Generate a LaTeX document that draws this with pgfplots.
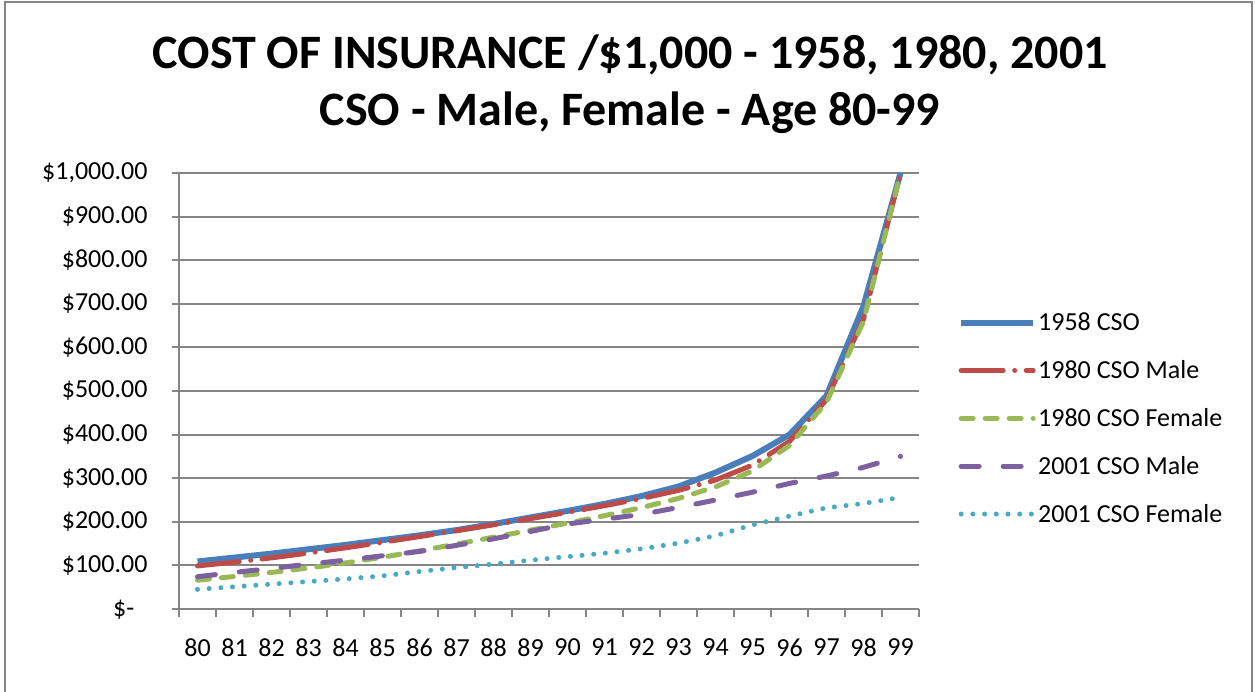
\documentclass[border=0pt]{standalone}
\usepackage{fontspec}
\setmainfont{Carlito}
\usepackage{pgfplots}
\pgfplotsset{compat=1.18}
\definecolor{cBlue}{HTML}{4A7EBB}
\definecolor{cRed}{HTML}{BE4B48}
\definecolor{cGreen}{HTML}{98B954}
\definecolor{cPurple}{HTML}{7D60A0}
\definecolor{cTeal}{HTML}{46AAC5}
\definecolor{gridgray}{HTML}{868686}
\pgfplotstableread{
age s1958 m1980 f1980 m2001 f2001
80 109 98.8 66.0 74 45
81 118 107.5 74.7 84 51
82 127 117.3 83.9 93 57
83 137 128.3 94.1 103 63
84 147 140.3 105.6 112 69
85 158 153.0 118.8 122 76
86 169 166.1 133.4 132 86
87 181 179.6 148.9 146 95
88 195 193.3 164.7 161 103
89 210 207.3 180.7 178 112
90 225 221.8 197.0 195 120
91 241 237.0 214.1 206 128
92 259 253.5 232.6 217 138
93 281 272.1 253.6 233 151
94 313 295.9 280.1 250 168
95 351 330.0 316.9 268 193
96 400 384.6 375.1 288 213
97 489 480.2 474.2 305 232
98 695 665.0 660.0 325 242
99 1000 1000 1000 350 256
}\datatable
\begin{document}
\begin{tikzpicture}[x=1pt,y=1pt]
\useasboundingbox (0,0) rectangle (1255,-691);
\draw[color=gridgray, line width=2pt] (5,-692) -- (5,-2) -- (1252,-2) -- (1252,-692);
\node[anchor=base, font=\fontsize{48}{58}\selectfont\bfseries] at (630,-68) {COST OF INSURANCE /\$1,000 - 1958, 1980, 2001};
\node[anchor=base, font=\fontsize{48}{58}\selectfont\bfseries] at (630,-125) {CSO - Male, Female - Age 80-99};
\begin{axis}[
  at={(179pt,-609pt)}, anchor=south west,
  scale only axis, width=740pt, height=436pt,
  xmin=79.5, xmax=99.5, ymin=0, ymax=1000,
  clip=false,
  axis x line*=bottom, axis y line*=left,
  axis line style={draw=gridgray, line width=2pt},
  tick align=outside,
  major tick length=7pt, minor tick length=8pt,
  xtick={80,...,99},
  xticklabels={80,81,82,83,84,85,86,87,88,89,90,91,92,93,94,95,96,97,98,99},
  minor xtick={79.5,80.5,...,99.5},
  major x tick style={draw=none},
  minor x tick style={draw=gridgray, line width=2pt},
  ytick={0,100,...,1000},
  yticklabels={{\$-\phantom{0}},{\$100.00},{\$200.00},{\$300.00},{\$400.00},{\$500.00},{\$600.00},{\$700.00},{\$800.00},{\$900.00},{\$1,000.00}},
  ytick style={draw=gridgray, line width=2pt},
  ymajorgrids,
  major grid style={draw=gridgray, line width=2pt},
  ticklabel style={font=\fontsize{26}{31}\selectfont, text=black},
  yticklabel style={xshift=-21pt},
  xticklabel style={yshift=-19pt},
  legend cell align=left,
  legend style={draw=none, fill=none, at={(1.0486,0.437)}, anchor=west,
    font=\fontsize{26}{31}\selectfont, row sep=24.3pt},
  legend image code/.code={\draw[#1] (0pt,0pt) -- (72pt,0pt);},
]
\addplot[cBlue, line width=6pt, line join=round] table[x=age, y=s1958] {\datatable};
\addlegendentry{1958 CSO}
\addplot[cRed, line width=5pt, line cap=round, line join=round, dash pattern=on 42pt off 11.5pt on 0pt off 11.5pt] table[x=age, y=m1980] {\datatable};
\addlegendentry{1980 CSO Male}
\addplot[cGreen, line width=5pt, line cap=round, line join=round, dash pattern=on 12pt off 12pt] table[x=age, y=f1980] {\datatable};
\addlegendentry{1980 CSO Female}
\addplot[cPurple, line width=5pt, line cap=round, line join=round, dash pattern=on 18pt off 24pt] table[x=age, y=m2001] {\datatable};
\addlegendentry{2001 CSO Male}
\addplot[cTeal, line width=5pt, line cap=round, line join=round, dash pattern=on 0pt off 11.7pt] table[x=age, y=f2001] {\datatable};
\addlegendentry{2001 CSO Female}
\end{axis}
\end{tikzpicture}
\end{document}
